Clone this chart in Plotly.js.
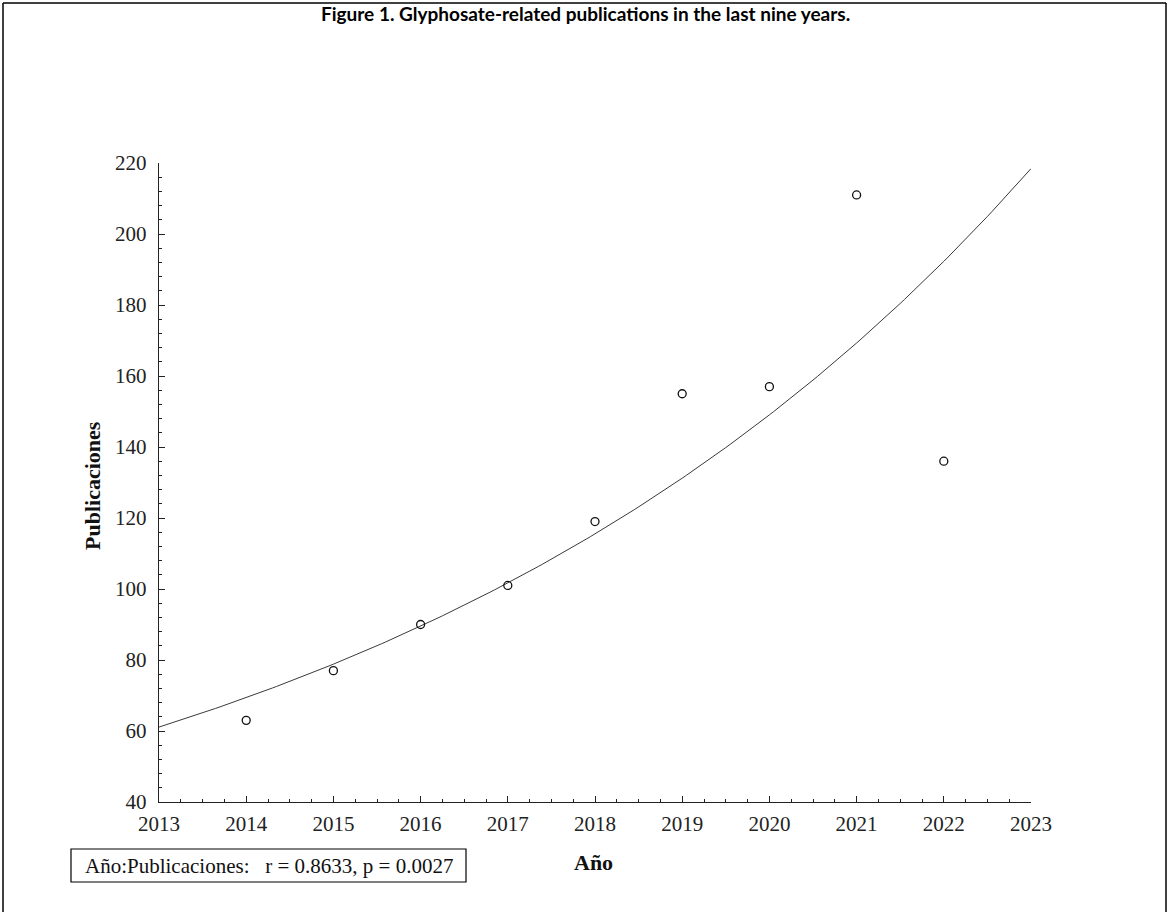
<!DOCTYPE html>
<html>
<head>
<meta charset="utf-8">
<script src="https://cdn.plot.ly/plotly-3.0.1.min.js"></script>
<style>
html,body{margin:0;padding:0;background:#fff;}
#chart{width:1169px;height:912px;}
</style>
</head>
<body>
<div id="chart"></div>
<script>
// Data
const years = [2014, 2015, 2016, 2017, 2018, 2019, 2020, 2021, 2022];
const publications = [63, 77, 90, 101, 119, 155, 157, 211, 136];
const xTickVals = [2013, 2014, 2015, 2016, 2017, 2018, 2019, 2020, 2021, 2022, 2023];
const yTickVals = [40, 60, 80, 100, 120, 140, 160, 180, 200, 220];
const statsText = "Año:Publicaciones:\u00a0\u00a0\u00a0r = 0.8633, p = 0.0027";

// Exponential (log-linear) least-squares fit computed from the data
const n = years.length;
const lx = years, ly = publications.map(v => Math.log(v));
const mx = lx.reduce((a,b)=>a+b,0)/n, my = ly.reduce((a,b)=>a+b,0)/n;
let sxy = 0, sxx = 0;
for (let i = 0; i < n; i++) { sxy += (lx[i]-mx)*(ly[i]-my); sxx += (lx[i]-mx)**2; }
const slope = sxy/sxx, icpt = my - slope*mx;
const fitX = [], fitY = [];
for (let x = 2013; x <= 2023.0001; x += 0.05) { fitX.push(x); fitY.push(Math.exp(icpt + slope*x)); }

// pixel -> paper helpers (plot area: x 159..1031, y 163..802)
const L = 159, R = 1031, T = 163, B = 802;
const px = v => (v - L) / (R - L);
const py = v => (B - v) / (B - T);

const serif = "Liberation Serif, Times New Roman, serif";

const traces = [
  {x: fitX, y: fitY, mode: 'lines', line: {color: '#3a3a3a', width: 1}, hoverinfo: 'skip', showlegend: false},
  {x: years, y: publications, mode: 'markers', showlegend: false,
   marker: {symbol: 'circle-open', size: 8, color: '#111', line: {width: 1.3, color: '#111'}}}
];

const layout = {
  width: 1169, height: 912,
  margin: {l: L, r: 1169 - R, t: T, b: 912 - B},
  paper_bgcolor: '#fff', plot_bgcolor: '#fff',
  showlegend: false,
  xaxis: {
    range: [2013, 2023], tickvals: xTickVals, ticktext: xTickVals.map(String),
    showgrid: false, zeroline: false, showline: true, linecolor: '#222', linewidth: 1.2,
    ticks: 'inside', ticklen: 6, tickwidth: 1, tickcolor: '#222',
    minor: {dtick: 0.25, ticks: 'inside', ticklen: 3, tickcolor: '#222', showgrid: false},
    tickfont: {family: serif, size: 21, color: '#222'}, ticklabelstandoff: 3
  },
  yaxis: {
    range: [40, 220], tickvals: yTickVals, ticktext: yTickVals.map(String),
    showgrid: false, zeroline: false, showline: true, linecolor: '#222', linewidth: 1.2,
    ticks: 'inside', ticklen: 6, tickwidth: 1, tickcolor: '#222',
    minor: {dtick: 4, ticks: 'inside', ticklen: 3, tickcolor: '#222', showgrid: false},
    tickfont: {family: serif, size: 21, color: '#222'}, ticklabelstandoff: 7
  },
  shapes: [
    {type: 'line', xref: 'paper', yref: 'paper', x0: px(3), x1: px(3), y0: py(912), y1: py(3), line: {color: '#000', width: 1.5}},
    {type: 'line', xref: 'paper', yref: 'paper', x0: px(3), x1: px(1166), y0: py(3), y1: py(3), line: {color: '#000', width: 1.5}},
    {type: 'line', xref: 'paper', yref: 'paper', x0: px(1166), x1: px(1166), y0: py(3), y1: py(912), line: {color: '#000', width: 1.5}},
    {type: 'rect', xref: 'paper', yref: 'paper', x0: px(71), x1: px(466), y0: py(882), y1: py(849), line: {color: '#000', width: 1.2}, fillcolor: 'rgba(0,0,0,0)'}
  ],
  annotations: [
    {text: '<b>Figure 1. Glyphosate-related publications in the last nine years.</b>', xref: 'paper', yref: 'paper',
     x: px(585), y: py(14), xanchor: 'center', yanchor: 'middle', showarrow: false,
     font: {family: 'Lato, Open Sans, sans-serif', size: 19, color: '#000'}},
    {text: '<b>Publicaciones</b>', xref: 'paper', yref: 'paper', x: px(92), y: py(486), textangle: -90,
     xanchor: 'center', yanchor: 'middle', showarrow: false, font: {family: serif, size: 22, color: '#111'}},
    {text: '<b>Año</b>', xref: 'paper', yref: 'paper', x: px(593), y: py(862),
     xanchor: 'center', yanchor: 'middle', showarrow: false, font: {family: serif, size: 22, color: '#111'}},
    {text: statsText, xref: 'paper', yref: 'paper', x: px(268.5), y: py(865.5),
     xanchor: 'center', yanchor: 'middle', showarrow: false, font: {family: serif, size: 21, color: '#111'}}
  ]
};

Plotly.newPlot('chart', traces, layout, {displayModeBar: false, staticPlot: true});
</script>
</body>
</html>
